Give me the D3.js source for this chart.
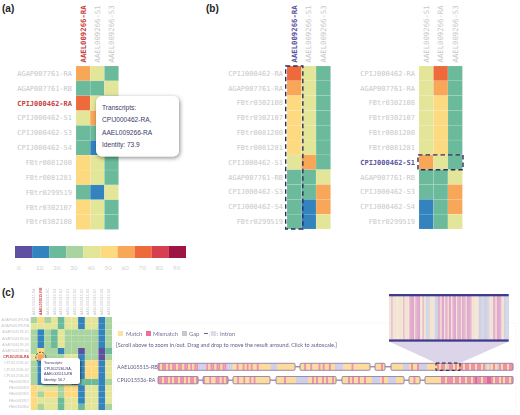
<!DOCTYPE html>
<html><head><meta charset="utf-8">
<script src="https://d3js.org/d3.v7.min.js"></script>
<style>html,body{margin:0;padding:0;background:#fff}svg{display:block}
.mono{font-family:"DejaVu Sans Mono",monospace}.sans{font-family:"Liberation Sans",Arial,sans-serif}.lato{font-family:Lato,sans-serif}</style>
</head><body><svg id="c" width="520" height="415"></svg>
<script>
const bins=[0,10,20,30,40,50,60,70,80,90];
const palette=["#5f50a1","#3383be","#6cba9c","#a9d4a0","#e3e699","#fdd97f","#f8a658","#ee6a3c","#d63f4f","#9e1444"];
const colA=["AAEL009266-RA","AAEL009266-S1","AAEL009266-S3"];
const rowsA=["AGAP007761-RA","AGAP007761-RB","CPIJ000462-RA","CPIJ000462-S1","CPIJ000462-S3","CPIJ000462-S4","FBtr0081280","FBtr0081281","FBtr0299519","FBtr0302107","FBtr0302108"];
const valsRA=[62,25,73.9,45,25,25,55,55,25,55,55];
const valsS1=[45,25,45,65,25,15,45,45,15,45,45];
const valsS3=[25,45,25,25,65,65,25,25,45,25,25];
const rowsB=["CPIJ000462-RA","AGAP007761-RA","FBtr0302108","FBtr0302107","FBtr0081280","FBtr0081281","CPIJ000462-S1","AGAP007761-RB","CPIJ000462-S3","CPIJ000462-S4","FBtr0299519"];
const colsBRight=["AAEL009266-S1","AAEL009266-RA","AAEL009266-S3"];
const tipA=["Transcripts:","CPIJ000462-RA,","AAEL009266-RA","Identity: 73.9"];
const colsC=["AAEL005515-RA","AAEL005515-RB","AAEL005515-RC","AAEL005515-S1","AAEL005515-S2","AAEL005515-S3","AAEL005515-S4","AAEL005515-S5","AAEL005515-S6","AAEL005515-S7","AAEL005515-S8","AAEL005515-S9"];
const rowsC=["AGAP006199-RA","AGAP006199-RB","AGAP006199-S1","AGAP006199-S4","AGAP006199-S3","AGAP006199-S6","CPIJ012536-RA","CPIJ012536-S1","CPIJ012536-S2","CPIJ012536-S3","FBtr0082854","FBtr0082853","FBtr0082855","FBtr0082857","FBtr0300864"];
const matC=[
[35,55,35,45,25,45,45,15,45,45,15,35],
[45,45,45,45,25,45,45,15,45,45,15,35],
[35,15,35,25,45,35,35,35,35,35,15,35],
[35,15,35,25,45,35,35,35,35,35,15,35],
[35,15,35,25,45,35,35,35,35,35,15,35],
[35,55,35,35,15,35,35,5,35,35,5,25],
[45,62,35,35,35,45,45,15,35,35,5,35],
[35,15,35,25,45,45,45,15,55,55,15,45],
[35,15,35,25,45,45,45,15,55,55,15,45],
[35,15,35,25,45,45,45,15,55,55,15,45],
[35,15,15,15,35,35,15,25,25,25,15,35],
[55,45,45,45,35,55,55,15,45,45,15,45],
[55,35,55,55,35,55,55,15,45,45,15,45],
[55,45,45,45,25,45,45,15,45,45,15,45],
[55,35,45,45,25,45,45,25,45,45,15,35]];
const tipC=["Transcripts:","CPIJ012536-RA,","AAEL005515-RB","Identity: 56.7"];
const trackNames=["AAEL005515-RB","CPIJ015536-RA"];
const track1=[[0,137],[142,212],[217,227],[233,355]];
const track2=[[0,40],[45,70],[75,112],[118,178],[184,246],[251,262],[267,355]];
const stripes1=["xmxxmxmxxmxxmxxmxmxxggggxmxxmxxmxxgggmmxmmxmxmxmmxmmmmmmgggmmmmmmmmm","mmxmmxmmmxmxmmxmmggggmmmmxmmmmmmmm","mmmxm","mmmmmmgggmxmmxggggmmmmmxmxxmgxxmxmxxmxxmxxmxxmxgmgmxmgxmxxmxx"];
const stripes2=["xxmxxmxmxxmxxmxmxxmx","xmmxmmxxmxmx","mmxmmxmmxmxmmmmmmm","mmmmxmmmmmggggggmmxmxmmxmxmmxm","mmmxmxmmxmmxmmmggggmxmmggggmmmm","mmxmm","mmmmmmmmxxmxxxmxxmxxmxxmxXxxmxxXXxmxxmxmxxmx"];
const zoomStripes="ccpcccccccccpccccppppcppppccpcclllcccclllppcppcppcppcpppcpppcpppcppppcccccclllllllllcccppcppppccllll";
const stripeColor={m:"#fddb9c",x:"#ef91aa",X:"#e8669a",g:"#cfd0e8"};
const zoomColor={c:"#f3e4d2",p:"#e0a8cc",l:"#cfd2e3"};
const legendC=[["Match","#fde2a0",118,126,"#77749a"],["Mismatch","#e8709a",146,153,"#77749a"],["Gap","#c8c8c8",182,189,"#77749a"]];

const svg=d3.select("#c");
const defs=svg.append("defs");
defs.append("filter").attr("id","soft").attr("x","-2%").attr("y","-5%").attr("width","104%").attr("height","110%")
  .append("feGaussianBlur").attr("stdDeviation",.45);
const root=svg.append("g");
const pc=svg.append("g").attr("filter","url(#soft)");
const overlay=svg.append("g");
const color=d3.scaleThreshold().domain(bins.slice(1)).range(palette);

function heat(x0,y0,w,h,rows,cols,getV,hiRow,hiCol,hiColor,fs){
  const x=d3.scaleBand().domain(cols).range([x0,x0+w]);
  const y=d3.scaleBand().domain(rows).range([y0,y0+h]);
  const g=root.append("g");
  rows.forEach((r,i)=>cols.forEach((c,j)=>{
    g.append("rect").attr("x",x(c)).attr("y",y(r)).attr("width",x.bandwidth()).attr("height",y.bandwidth())
     .attr("fill",color(getV(r,c))).attr("stroke","#fff").attr("stroke-opacity",.18).attr("stroke-width",.5);
  }));
  rows.forEach(r=>{
    const hi=r===hiRow;
    g.append("text").attr("class","mono").attr("x",x0-4).attr("y",y(r)+y.bandwidth()/2+2.4)
     .attr("text-anchor","end").attr("font-size",fs).attr("font-weight",hi?"bold":"normal")
     .attr("fill",hi?hiColor:"#c8c8c8").text(r);
  });
  cols.forEach(c=>{
    const hi=c===hiCol, cx=x(c)+x.bandwidth()/2+2.4, by=y0-3.5;
    g.append("text").attr("class","mono").attr("transform",`translate(${cx},${by}) rotate(-90)`)
     .attr("font-size",7.3).attr("font-weight",hi?"bold":"normal")
     .attr("fill",hi?hiColor:"#c8c8c8").text(c);
  });
  return {x,y};
}
const getAB=(r,c)=>{const i=rowsA.indexOf(r);return c.endsWith("RA")?valsRA[i]:c.endsWith("S1")?valsS1[i]:valsS3[i];};

// panel letters
[["(a)",2,12],["(b)",206,12],["(c)",2,296]].forEach(d=>root.append("text").attr("class","sans").attr("x",d[1]).attr("y",d[2]).attr("font-size",10).attr("font-weight","bold").attr("fill","#222").text(d[0]));

// a
heat(76,66,42.6,163.5,rowsA,colA,getAB,"CPIJ000462-RA","AAEL009266-RA","#c8413f",7);
// b
const bl=heat(287,66,43.6,163,rowsB,colA,getAB,null,"AAEL009266-RA","#5a53a0",7);
const br=heat(419,66,43.4,163,rowsB,colsBRight,getAB,"CPIJ000462-S1",null,"#5a53a0",7);
root.append("rect").attr("x",bl.x(colA[0])-1.3).attr("y",66).attr("width",bl.x.bandwidth()+2.6).attr("height",163).attr("fill","none").attr("stroke","#2f2c58").attr("stroke-width",1.4).attr("stroke-dasharray","4.5,3");
root.append("rect").attr("x",418).attr("y",br.y("CPIJ000462-S1")).attr("width",45).attr("height",br.y.bandwidth()).attr("fill","none").attr("stroke","#2f2c58").attr("stroke-width",1.4).attr("stroke-dasharray","4.5,3");

function tooltip(parent,x,y,w,h,r,lines,fs,step,tx,ty){
  const f=defs.append("filter").attr("id","sh"+x).attr("x","-20%").attr("y","-20%").attr("width","140%").attr("height","150%");
  f.append("feDropShadow").attr("dx",1).attr("dy",1.5).attr("stdDeviation",r>3?2:1).attr("flood-color","#000").attr("flood-opacity",.45);
  parent.append("rect").attr("x",x).attr("y",y).attr("width",w).attr("height",h).attr("rx",r).attr("fill","#fff").attr("filter",`url(#sh${x})`);
  lines.forEach((l,i)=>parent.append("text").attr("class","sans").attr("x",tx).attr("y",ty+i*step).attr("font-size",fs).attr("fill","#3d3a6b").text(l));
}
tooltip(root,96,96,83,60.5,6,tipA,6.6,12.4,102,110);

// colour bar
const cb=d3.scaleBand().domain(bins).range([15,186]);
root.selectAll(".cb").data(bins).enter().append("rect").attr("x",d=>cb(d)).attr("y",246).attr("width",cb.bandwidth()).attr("height",12).attr("fill",d=>color(d));
root.selectAll(".cbt").data(bins).enter().append("text").attr("class","lato").attr("x",d=>cb(d)+(d?4:2)).attr("y",269.5).attr("font-size",6).attr("fill","#cfcfcf").attr("letter-spacing",.3).text(d=>d);

// c heatmap
const hx=d3.scaleBand().domain(colsC).range([30.7,112]);
const hy=d3.scaleBand().domain(rowsC).range([317,410]);
rowsC.forEach((r,i)=>colsC.forEach((c,j)=>pc.append("rect").attr("x",hx(c)).attr("y",hy(r)).attr("width",hx.bandwidth()).attr("height",hy.bandwidth()).attr("fill",color(matC[i][j]))));
rowsC.forEach(r=>{const hi=r==="CPIJ012536-RA";pc.append("text").attr("class","sans").attr("x",29).attr("y",hy(r)+4).attr("text-anchor","end").attr("font-size",3.5).attr("font-weight",hi?"bold":"normal").attr("fill",hi?"#c8413f":"#c4c4c4").text(r);});
colsC.forEach(c=>{const hi=c==="AAEL005515-RB";pc.append("text").attr("class","sans").attr("transform",`translate(${hx(c)+hx.bandwidth()/2+1.2},${315}) rotate(-90)`).attr("font-size",3.5).attr("font-weight",hi?"bold":"normal").attr("fill",hi?"#c8413f":"#c4c4c4").text(c);});
pc.append("circle").attr("cx",hx(colsC[1])+hx.bandwidth()/2).attr("cy",hy("CPIJ012536-RA")+3).attr("r",5).attr("fill","none").attr("stroke","#333").attr("stroke-width",.9).attr("stroke-dasharray","2,1.5");
tooltip(pc,41,358,39,26,3,tipC,3.7,5.6,44,364);

// c browser frame
pc.append("rect").attr("x",113.5).attr("y",323).attr("width",402.5).attr("height",88).attr("fill","none").attr("stroke","#eeeeee").attr("stroke-width",.7).attr("stroke-dasharray","1.5,1.5");
legendC.forEach(d=>{
  pc.append("rect").attr("x",d[2]).attr("y",331).attr("width",5).attr("height",5).attr("fill",d[1]);
  pc.append("text").attr("class","lato").attr("x",d[3]).attr("y",335.8).attr("font-size",5.8).attr("fill",d[4]).text(d[0]);
});
pc.append("line").attr("x1",204).attr("x2",208).attr("y1",333.5).attr("y2",333.5).attr("stroke","#6a5f9c");
pc.append("text").attr("class","lato").attr("x",208.5).attr("y",335.8).attr("font-size",5.8).attr("fill","#c5c5d5").text("/");
pc.append("rect").attr("x",211).attr("y",331).attr("width",5).attr("height",5).attr("fill","#dcdcea");
pc.append("text").attr("class","lato").attr("x",217).attr("y",335.8).attr("font-size",5.8).attr("fill","#77749a").text(": Intron");
pc.append("text").attr("class","lato").attr("x",116).attr("y",347).attr("font-size",5.55).attr("fill","#5f5c86").text("[Scroll above to zoom in/out. Drag and drop to move the result arround. Click to autoscale.]");

// tracks
const tx=d3.scaleLinear().domain([0,355]).range([158,513]);
function track(exons,strs,y,h,name){
  pc.append("text").attr("class","lato").attr("x",117).attr("y",y+h/2+2).attr("font-size",5.4).attr("fill","#5f5c86").text(name);
  pc.append("line").attr("x1",tx(0)).attr("x2",tx(355)).attr("y1",y+h/2).attr("y2",y+h/2).attr("stroke","#6a5f9c").attr("stroke-width",1);
  exons.forEach((e,i)=>{
    const s=strs[i].split("");
    const u=d3.scaleBand().domain(d3.range(s.length)).range([tx(e[0]),tx(e[1])]);
    pc.append("rect").attr("x",tx(e[0])).attr("y",y).attr("width",tx(e[1])-tx(e[0])).attr("height",h).attr("fill","#fff");
    s.forEach((c,k)=>pc.append("rect").attr("x",u(k)).attr("y",y).attr("width",u.bandwidth()+.2).attr("height",h).attr("fill",stripeColor[c]));
    pc.append("rect").attr("x",tx(e[0])).attr("y",y).attr("width",tx(e[1])-tx(e[0])).attr("height",h).attr("rx",1).attr("fill","none").attr("stroke","#8d81ac").attr("stroke-width",.9);
  });
}
track(track1,stripes1,363.3,7,trackNames[0]);
track(track2,stripes2,376.5,7.3,trackNames[1]);

// zoom lens
const zx=d3.scaleBand().domain(d3.range(zoomStripes.length)).range([389,508.7]);
const lens=[[389,341.5],[508.7,341.5],[tx(302),363],[tx(278),363]];
overlay.append("path").attr("d",d3.line()(lens)+"Z").attr("fill","#dcd4e9");
const zg=overlay.append("g").attr("filter","url(#soft)");
zoomStripes.split("").forEach((c,i)=>zg.append("rect").attr("x",zx(i)).attr("y",296).attr("width",zx.bandwidth()+.2).attr("height",44).attr("fill",zoomColor[c]));
[294,339.4].forEach(y=>overlay.append("rect").attr("x",389).attr("y",y).attr("width",119.7).attr("height",2.3).attr("fill","#3f3a8c"));
overlay.append("rect").attr("x",tx(278)).attr("y",363).attr("width",tx(302)-tx(278)).attr("height",7.3).attr("fill","none").attr("stroke","#1e1c30").attr("stroke-width",1).attr("stroke-dasharray","3.5,2.5");
</script></body></html>
